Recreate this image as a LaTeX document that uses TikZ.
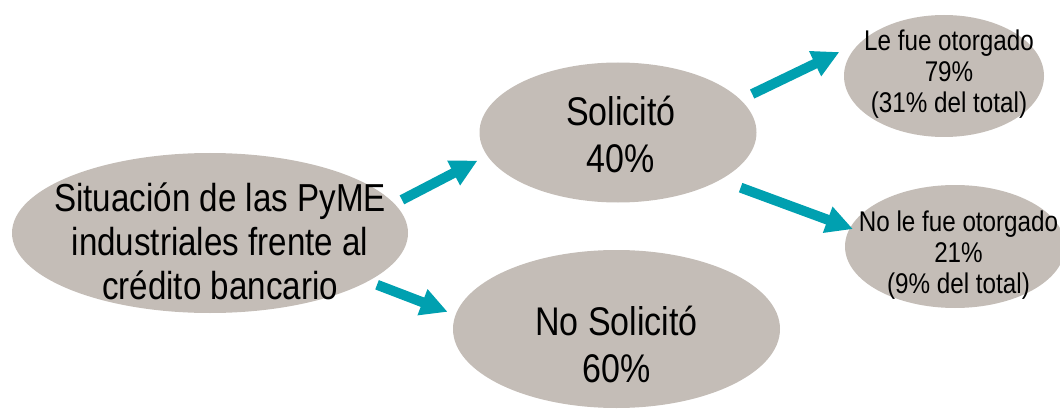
\documentclass[tikz,border=0pt]{standalone}
\usepackage{fontspec}
\setmainfont[FakeStretch=0.85]{Liberation Sans}
\usetikzlibrary{shapes.geometric}
\usetikzlibrary{arrows.meta}
\usetikzlibrary{calc}

\definecolor{blobgray}{RGB}{196,189,183}
\definecolor{arrowteal}{RGB}{0,160,176}

\begin{document}
\begin{tikzpicture}[x=1pt,y=-1pt,
    blob/.style={ellipse,fill=blobgray,inner sep=0pt,outer sep=0pt},
    bigtxt/.style={align=center,inner sep=0pt,font=\fontsize{39}{44}\selectfont},
    midtxt/.style={align=center,inner sep=0pt,font=\fontsize{40}{47}\selectfont},
    smalltxt/.style={align=center,inner sep=0pt,font=\fontsize{28.5}{31}\selectfont},
    arr/.style={-{Triangle[length=27pt,width=26pt]},color=arrowteal,line width=10pt}]
    \useasboundingbox (0,0) rectangle (1060,409);

    \node (pyme) [blob,minimum width=396pt,minimum height=160pt] at (210,233) {};
    \node (sol) [blob,minimum width=277pt,minimum height=140pt] at (618,132.5) {};
    \node (nosol) [blob,minimum width=327pt,minimum height=158pt] at (616.5,329) {};
    \node (otorg) [blob,minimum width=200pt,minimum height=122pt] at (944,76) {};
    \node (nootorg) [blob,minimum width=220pt,minimum height=123pt] at (955,246.5) {};

    \node (pymetxt) [bigtxt] at ([xshift=10pt,yshift=-8.5pt]pyme.center)
      {Situación de las PyME\\industriales frente al\\crédito bancario};
    \node (soltxt) [midtxt] at ([xshift=3pt,yshift=-1.6pt]sol.center) {Solicitó\\40\%};
    \node (nosoltxt) [midtxt] at ([yshift=-15.6pt]nosol.center) {No Solicitó\\60\%};
    \node (otorgtxt) [smalltxt] at ([xshift=5pt,yshift=1.4pt]otorg.center)
      {Le fue otorgado\\79\%\\(31\% del total)};
    \node (nootorgtxt) [smalltxt] at ([xshift=3.5pt,yshift=-9.1pt]nootorg.center)
      {No le fue otorgado\\21\%\\(9\% del total)};

    \draw[arr,shorten <=8.6pt,shorten >=10.9pt] (pyme.9.75) -- (sol.190.4);
    \draw[arr,shorten <=9.8pt,shorten >=8.5pt] (pyme.343) -- (nosol.175.8);
    \draw[arr,shorten <=13.1pt,shorten >=25pt] (sol.15.7) -- (otorg.157.2);
    \draw[arr,shorten <=22.2pt] (sol.335.7) -- ($(nootorg.170)!-3.1pt!(sol.335.7)$);
\end{tikzpicture}
\end{document}
